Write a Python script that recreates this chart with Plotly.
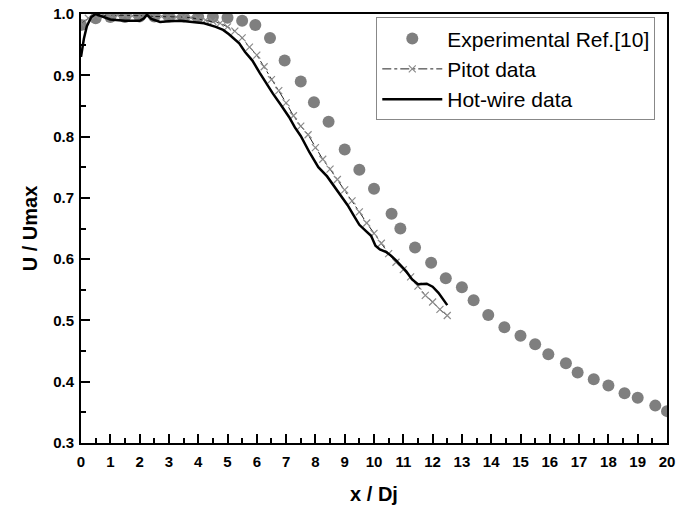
import plotly.graph_objects as go

# Experimental Ref.[10]
exp_x = [0, 0.5, 1.0, 1.5, 2.0, 2.5, 3.0, 3.5, 4.0, 4.5, 5.0, 5.5, 5.95, 6.45, 6.95, 7.5, 7.95,
         8.45, 9.0, 9.5, 10.0, 10.6, 10.9, 11.4, 11.95, 12.45, 13.0, 13.4, 13.9, 14.45, 15.0,
         15.5, 15.95, 16.55, 16.95, 17.5, 18.0, 18.55, 19.0, 19.6, 20.0]
exp_y = [0.982, 0.993, 0.995, 0.995, 0.996, 0.996, 0.996, 0.996, 0.995, 0.995, 0.994, 0.989,
         0.982, 0.961, 0.924, 0.890, 0.856, 0.824, 0.779, 0.746, 0.715, 0.674, 0.650, 0.619,
         0.594, 0.569, 0.554, 0.533, 0.509, 0.489, 0.475, 0.461, 0.445, 0.430, 0.415, 0.404,
         0.394, 0.381, 0.374, 0.361, 0.352]

# Pitot data
pitot_x = [0, 0.25, 0.5, 0.75, 1.0, 1.25, 1.5, 1.75, 2.0, 2.25, 2.5, 2.75, 3.0, 3.25, 3.5, 3.75,
           4.0, 4.25, 4.5, 4.75, 5.0, 5.25, 5.5, 5.75, 6.0, 6.25, 6.5, 6.75, 7.0, 7.25, 7.5,
           7.75, 8.0, 8.25, 8.5, 8.75, 9.0, 9.25, 9.5, 9.75, 10.0, 10.25, 10.5, 10.75, 11.0,
           11.25, 11.5, 11.75, 12.0, 12.25, 12.5]
pitot_y = [0.985, 0.993, 0.997, 0.998, 0.998, 0.998, 0.998, 0.997, 0.997, 0.997, 0.996, 0.996,
           0.996, 0.995, 0.995, 0.994, 0.992, 0.990, 0.988, 0.985, 0.979, 0.972, 0.961, 0.946,
           0.933, 0.914, 0.893, 0.875, 0.855, 0.834, 0.817, 0.803, 0.782, 0.763, 0.747, 0.730,
           0.713, 0.695, 0.677, 0.659, 0.642, 0.626, 0.609, 0.595, 0.583, 0.571, 0.556, 0.541,
           0.530, 0.518, 0.508]

# Hot-wire data
hw_x = [0, 0.1, 0.2, 0.35, 0.5, 0.7, 1.0, 1.5, 2.0, 2.15, 2.25, 2.4, 2.7, 3.0, 3.4, 3.8, 4.2,
        4.6, 4.85, 5.05, 5.2, 5.4, 5.6, 5.85, 6.1, 6.3, 6.55, 6.8, 7.1, 7.3, 7.5, 7.8, 8.1, 8.4,
        8.6, 8.85, 9.1, 9.3, 9.5, 9.7, 9.9, 10.05, 10.2, 10.4, 10.55, 10.75, 10.9, 11.1, 11.3,
        11.5, 11.8, 12.0, 12.2, 12.35, 12.5]
hw_y = [0.93, 0.96, 0.98, 0.995, 1.0, 0.996, 0.991, 0.989, 0.989, 0.993, 0.999, 0.992, 0.987,
        0.988, 0.989, 0.987, 0.985, 0.979, 0.974, 0.967, 0.96, 0.952, 0.938, 0.924, 0.904,
        0.888, 0.870, 0.853, 0.832, 0.815, 0.801, 0.774, 0.750, 0.735, 0.722, 0.706, 0.688,
        0.672, 0.656, 0.647, 0.638, 0.622, 0.616, 0.612, 0.607, 0.598, 0.591, 0.580, 0.567,
        0.559, 0.560, 0.555, 0.545, 0.535, 0.525]

x_ticks = list(range(0, 21))
y_ticks = [0.3, 0.4, 0.5, 0.6, 0.7, 0.8, 0.9, 1.0]

FONT = "Arial, 'Liberation Sans', sans-serif"

fig = go.Figure()
fig.add_trace(go.Scatter(x=exp_x, y=exp_y, mode="markers", name="Experimental Ref.[10]",
                         marker=dict(color="#7f7f7f", size=12, line=dict(width=0))))
fig.add_trace(go.Scatter(x=pitot_x, y=pitot_y, mode="lines+markers", name="Pitot data",
                         line=dict(color="#222222", width=1, dash="dashdot"),
                         marker=dict(symbol="x-thin", size=7, color="#8c8c8c",
                                     line=dict(color="#8c8c8c", width=1.2))))
fig.add_trace(go.Scatter(x=hw_x, y=hw_y, mode="lines", name="Hot-wire data",
                         line=dict(color="black", width=2.5)))

axis_common = dict(showline=True, linecolor="black", linewidth=2, mirror=True,
                   ticks="inside", tickcolor="black", tickwidth=2, ticklen=9,
                   showgrid=False, zeroline=False, automargin=False,
                   tickfont=dict(family=FONT, size=15, color="black", weight="bold"))

fig.update_xaxes(range=[0, 20], tickvals=x_ticks, ticktext=[str(v) for v in x_ticks],
                 ticklabelstandoff=4,
                 minor=dict(ticks="inside", dtick=0.5, tick0=0, ticklen=5, tickwidth=2,
                            tickcolor="black", showgrid=False),
                 title=dict(text="x / Dj", font=dict(family=FONT, size=20, color="black",
                                                    weight="bold"), standoff=18),
                 **axis_common)
fig.update_yaxes(range=[0.3, 1.0], tickvals=y_ticks, ticktext=[f"{v:.1f}" for v in y_ticks],
                 ticklabelstandoff=2,
                 minor=dict(ticks="inside", dtick=0.05, tick0=0.3, ticklen=5, tickwidth=2,
                            tickcolor="black", showgrid=False),
                 title=dict(text="U / Umax", font=dict(family=FONT, size=20, color="black",
                                                      weight="bold"), standoff=10),
                 **axis_common)

fig.update_layout(
    width=678, height=509,
    margin=dict(l=81, r=11, t=14, b=66),
    paper_bgcolor="white", plot_bgcolor="white",
    showlegend=True,
    legend=dict(x=0.98, y=0.992, xanchor="right", yanchor="top",
                bgcolor="white", bordercolor="#888888", borderwidth=1,
                font=dict(family=FONT, size=21, color="black"),
                itemwidth=60, entrywidth=282, entrywidthmode="pixels",
                tracegroupgap=0),
)

fig.write_html("out.html")
